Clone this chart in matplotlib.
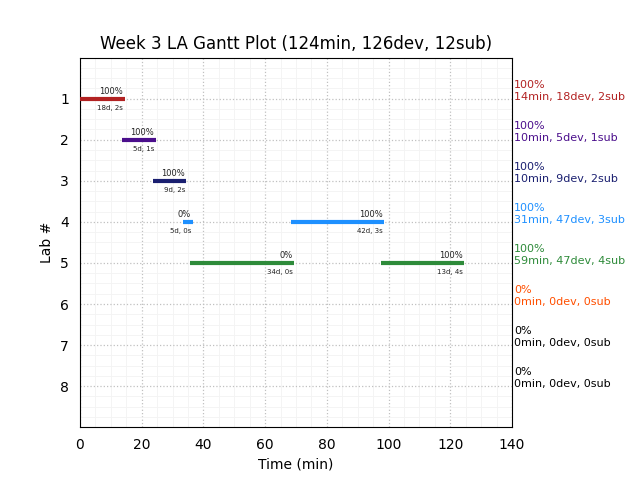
import matplotlib
matplotlib.use("Agg")
from matplotlib import pyplot as plt
from matplotlib.ticker import MultipleLocator

# Lab rows and their colours
LABS = [1, 2, 3, 4, 5, 6, 7, 8]
LAB_COLORS = ["#b22222", "#4b0f8c", "#1a1f70", "#1e90ff", "#2e8b3a", "#ff4f00", "black", "black"]

# Work segments: (lab, start, end, percent label, detail label)
SEG_LAB = [1, 2, 3, 4, 4, 5, 5]
SEG_START = [0.0, 13.5, 23.5, 33.5, 68.5, 35.5, 97.5]
SEG_END = [14.5, 24.5, 34.5, 36.5, 98.5, 69.5, 124.5]
SEG_PCT = ["100%", "100%", "100%", "0%", "100%", "0%", "100%"]
SEG_DETAIL = ["18d, 2s", "5d, 1s", "9d, 2s", "5d, 0s", "42d, 3s", "34d, 0s", "13d, 4s"]

# Per-lab summary on the right
SUMMARY_PCT = ["100%", "100%", "100%", "100%", "100%", "0%", "0%", "0%"]
SUMMARY_TXT = [
    "14min, 18dev, 2sub",
    "10min, 5dev, 1sub",
    "10min, 9dev, 2sub",
    "31min, 47dev, 3sub",
    "59min, 47dev, 4sub",
    "0min, 0dev, 0sub",
    "0min, 0dev, 0sub",
    "0min, 0dev, 0sub",
]

fig, ax = plt.subplots(figsize=(6.4, 4.8), dpi=100)
fig.subplots_adjust(left=0.125, right=0.8, top=0.88, bottom=0.11)

ax.set_xlim(0, 140)
ax.set_ylim(9, 0)
ax.set_yticks(LABS)
ax.xaxis.set_minor_locator(MultipleLocator(5))
ax.yaxis.set_minor_locator(MultipleLocator(0.25))
ax.tick_params(which="both", length=0, labelsize=10, pad=8)
ax.grid(True, which="major", color="#c0c0c0", linestyle=":", linewidth=0.9)
ax.grid(True, which="minor", color="#f3f3f3", linestyle="-", linewidth=0.6)
ax.set_axisbelow(True)

for lab, x0, x1, pct, det in zip(SEG_LAB, SEG_START, SEG_END, SEG_PCT, SEG_DETAIL):
    c = LAB_COLORS[lab - 1]
    ax.hlines(lab, x0, x1, colors=c, linewidth=3, zorder=3)
    ax.text(x1 - 0.5, lab - 0.06, pct, ha="right", va="bottom", fontsize=6, color="#222222")
    ax.text(x1 - 0.5, lab + 0.15, det, ha="right", va="top", fontsize=5, color="#222222")

for lab, pct, txt in zip(LABS, SUMMARY_PCT, SUMMARY_TXT):
    ax.text(1.005, lab + 0.07, pct + "\n" + txt, transform=ax.get_yaxis_transform(),
            ha="left", va="bottom", fontsize=8, color=LAB_COLORS[lab - 1], linespacing=1.25)

ax.set_xlabel("Time (min)", fontsize=10)
ax.set_ylabel("Lab #", fontsize=10)
ax.set_title("Week 3 LA Gantt Plot (124min, 126dev, 12sub)", fontsize=12)

fig.savefig("out.png", dpi=100)
